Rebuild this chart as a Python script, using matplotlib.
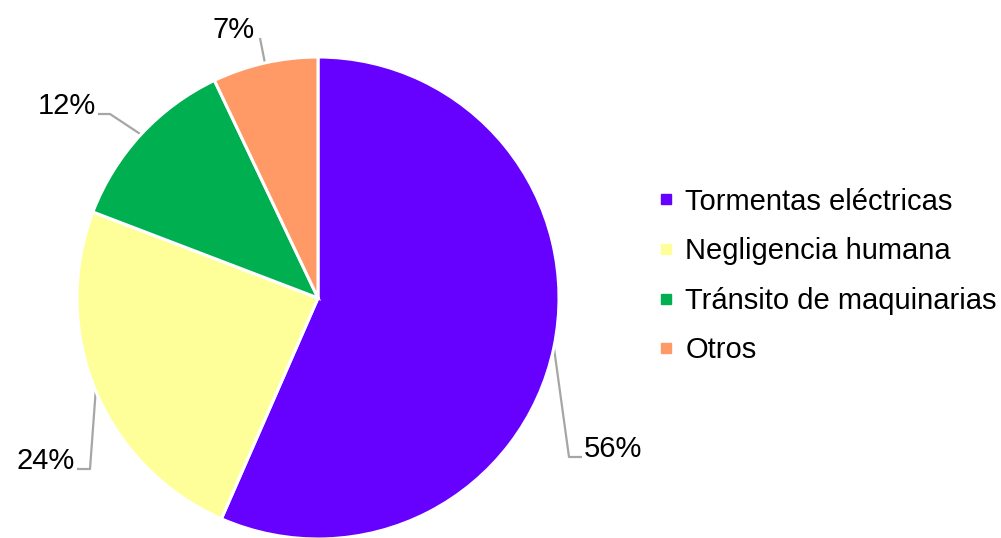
import numpy as np
import matplotlib
matplotlib.use("Agg")
import matplotlib.pyplot as plt
from matplotlib.lines import Line2D

plt.rcParams['font.family'] = ['Liberation Sans', 'DejaVu Sans']

categories = ["Tormentas eléctricas", "Negligencia humana", "Tránsito de maquinarias", "Otros"]
percentages = [56, 24, 12, 7]
colors = ["#6600FF", "#FFFF99", "#00B050", "#FF9966"]

W, H = 1001, 538
fig = plt.figure(figsize=(W / 100, H / 100), dpi=100)
ax = fig.add_axes([0, 0, 1, 1])

cx, cy, R = 318, 240, 241
wedges, _ = ax.pie(percentages, colors=colors, startangle=90, counterclock=False,
                   center=(cx, cy), radius=R, frame=True,
                   wedgeprops=dict(edgecolor="white", linewidth=2.2))
ax.set_xlim(0, W)
ax.set_ylim(0, H)
ax.set_aspect("equal")
ax.axis("off")

# leader lines: start on the wedge rim at its mid angle, then an elbow
# (elbow point, end point, text anchor x, text alignment) given in pixel-space
leaders = [
    ((569, H - 457), (582, H - 457), 584, "left"),
    ((90, H - 469), (77, H - 469), 75, "right"),
    ((110, H - 114), (98, H - 114), 96, "right"),
    ((260, H - 38), (260, H - 38), 255, "right"),
]
for w, pct, (elbow, end, tx, ha) in zip(wedges, percentages, leaders):
    mid = np.deg2rad((w.theta1 + w.theta2) / 2)
    sx, sy = cx + R * np.cos(mid), cy + R * np.sin(mid)
    ax.plot([sx, elbow[0], end[0]], [sy, elbow[1], end[1]], color="#A6A6A6", lw=1.6,
            solid_capstyle="butt", zorder=0)
    ax.text(tx, end[1], f"{pct}%", ha=ha, va="baseline", fontsize=21, color="#000000")

handles = [Line2D([], [], marker="s", markersize=7, linestyle="none", color=c) for c in colors]
leg = ax.legend(handles, categories, loc="center left",
                bbox_to_anchor=(659 / W, 1 - 276 / H), bbox_transform=fig.transFigure,
                frameon=False, fontsize=21, handlelength=0.5, handletextpad=0.4,
                labelspacing=0.74, borderpad=0, borderaxespad=0)

fig.savefig("out.png", dpi=100)
